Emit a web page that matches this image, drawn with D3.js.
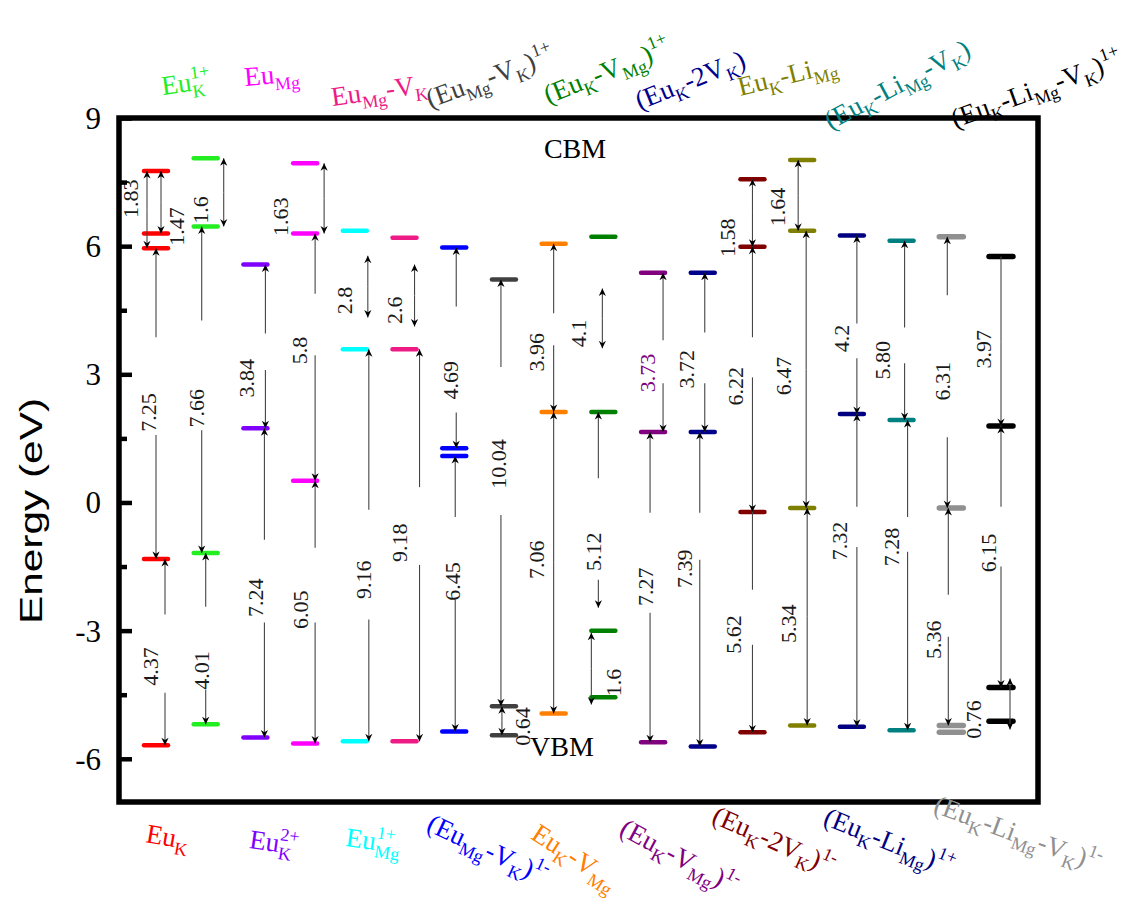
<!DOCTYPE html>
<html>
<head>
<meta charset="utf-8">
<script src="https://cdn.jsdelivr.net/npm/d3@7"></script>
<style>
  body { margin: 0; background: #fff; }
  svg { display: block; }
</style>
</head>
<body>
<div id="chart"></div>
<script>
// defect configurations, left to right
const defects = [
  "Eu_{K}", "Eu_{K}^{1+}", "Eu_{K}^{2+}", "Eu_{Mg}", "Eu_{Mg}^{1+}", "Eu_{Mg}-V_{K}",
  "(Eu_{Mg}-V_{K})^{1-}", "(Eu_{Mg}-V_{K})^{1+}", "Eu_{K}-V_{Mg}", "(Eu_{K}-V_{Mg})^{1+}",
  "(Eu_{K}-V_{Mg})^{1-}", "(Eu_{K}-2V_{K})", "(Eu_{K}-2V_{K})^{1-}", "Eu_{K}-Li_{Mg}",
  "(Eu_{K}-Li_{Mg})^{1+}", "(Eu_{K}-Li_{Mg}-V_{K})", "(Eu_{K}-Li_{Mg}-V_{K})^{1-}",
  "(Eu_{K}-Li_{Mg}-V_{K})^{1+}"
];
const defectColors = [
  "#ff0000", "#22ee22", "#8000ff", "#ff00ff", "#00ffff", "#ee1a86",
  "#0000ff", "#404040", "#ff8000", "#008000", "#800080", "#00008b",
  "#800000", "#808000", "#000080", "#008080", "#909090", "#000000"
];

// energy levels (eV) of each defect
const levels = [
  [7.77, 6.31, 5.96, -1.31, -5.67],
  [8.07, 6.47, -1.17, -5.18],
  [5.58, 1.75, -5.49],
  [7.95, 6.31, 0.52, -5.63],
  [6.37, 3.60, -5.58],
  [6.21, 3.60, -5.58],
  [5.98, 1.28, 1.10, -5.35],
  [5.23, -4.76, -5.44],
  [6.07, 2.13, -4.93],
  [6.23, 2.13, -2.99, -4.55],
  [5.39, 1.66, -5.60],
  [5.39, 1.66, -5.70],
  [7.58, 6.00, -0.21, -5.37],
  [8.03, 6.37, -0.12, -5.21],
  [6.26, 2.08, -5.24],
  [6.14, 1.94, -5.32],
  [6.23, -0.12, -5.21, -5.37],
  [5.77, 1.80, -4.32, -5.11]
];

// transitions: [defect, upper end (eV), lower end (eV), label, gap top, gap bottom, label at (eV), heads]
const transitions = [
  [0, 7.77, 5.96, "1.83", null, null, 7.12, "both"],
  [0, 7.77, 6.31, "1.47", null, null, 6.47, "both"],
  [0, 5.96, -1.31, "7.25", 3.88, 1.59, 2.12, "both"],
  [0, -1.31, -5.67, "4.37", -2.61, -4.44, -3.83, "both"],
  [1, 8.07, 6.47, "1.6", null, null, 6.86, "both"],
  [1, 6.47, -1.17, "7.66", 4.27, 1.70, 2.22, "both"],
  [1, -1.17, -5.18, "4.01", -2.43, -4.37, -3.92, "both"],
  [2, 5.58, 1.75, "3.84", 3.97, 3.11, 2.92, "both"],
  [2, 1.75, -5.49, "7.24", -0.86, -2.80, -2.22, "both"],
  [3, 7.95, 6.31, "1.63", null, null, 6.70, "both"],
  [3, 6.31, 0.52, "5.8", 4.90, 3.46, 3.57, "both"],
  [3, 0.52, -5.63, "6.05", -1.05, -2.80, -2.50, "both"],
  [4, 5.79, 4.34, "2.8", null, null, 4.74, "both"],
  [4, 3.60, -5.58, "9.16", -0.16, -2.73, -1.80, "both"],
  [5, 5.58, 4.13, "2.6", null, null, 4.51, "both"],
  [5, 3.60, -5.58, "9.18", 0.37, -1.45, -0.93, "both"],
  [6, 5.98, 1.28, "4.69", 4.60, 2.12, 2.87, "both"],
  [6, 1.10, -5.35, "6.45", -0.33, -2.26, -1.84, "both"],
  [7, 5.23, -4.76, "10.04", 3.18, -0.28, 0.91, "both"],
  [7, -4.76, -5.44, "0.64", null, null, -5.23, "both"],
  [8, 6.07, 2.13, "3.96", 4.44, 3.69, 3.53, "both"],
  [8, 2.13, -4.93, "7.06", null, null, -1.33, "both"],
  [9, 5.02, 3.62, "4.1", null, null, 3.97, "both"],
  [9, 2.13, -2.45, "5.12", 0.58, -1.80, -1.14, "both"],
  [9, -3.04, -4.72, "1.6", null, null, -4.20, "both"],
  [10, 5.39, 1.66, "3.73", 3.81, 2.80, 3.04, "both"],
  [10, 1.66, -5.60, "7.27", -0.23, -2.57, -1.96, "both"],
  [11, 5.39, 1.66, "3.72", 3.99, 2.80, 3.13, "both"],
  [11, 1.66, -5.70, "7.39", -0.23, -1.33, -1.54, "both"],
  [12, 7.58, 6.00, "1.58", null, null, 6.21, "both"],
  [12, 6.00, -0.21, "6.22", 3.88, 2.94, 2.73, "both"],
  [12, -0.21, -5.37, "5.62", -2.03, -3.32, -3.08, "down"],
  [13, 8.03, 6.37, "1.64", null, null, 6.93, "both"],
  [13, 6.37, -0.12, "6.47", null, null, 2.97, "both"],
  [13, -0.12, -5.21, "5.34", null, null, -2.83, "both"],
  [14, 6.26, 2.08, "4.2", 4.20, 3.39, 3.85, "both"],
  [14, 2.08, -5.24, "7.32", -0.09, -1.03, -0.89, "both"],
  [15, 6.14, 1.94, "5.80", 4.11, 3.27, 3.34, "both"],
  [15, 1.94, -5.32, "7.28", -0.33, -1.14, -1.03, "both"],
  [16, 6.23, -0.12, "6.31", 4.86, 1.54, 2.85, "both"],
  [16, -0.12, -5.21, "5.36", -2.15, -3.13, -3.20, "both"],
  [17, 5.77, 1.80, "3.97", null, null, 3.60, "down"],
  [17, 1.80, -4.32, "6.15", -0.09, -1.49, -1.17, "both"],
  [17, -4.11, -5.30, "0.76", null, null, -5.07, "both"]
];

const yTicks = [-6, -3, 0, 3, 6, 9];
const yMinorTicks = [-4.5, -1.5, 1.5, 4.5, 7.5];

// layout nudges (px): arrow x and label x relative to the defect column
const arrowNudge = [
  [-9, -26], [5, 20], [0, -8], [9, -6], [18, -5], [-4, -9], [0, -4], [10, -9], [9, 0],
  [19, -25], [10, -6], [10, -5], [13, -10], [14, 9], [10, -10], [15, -5], [2, -4], [1, -2],
  [-3, -5], [-2, 19], [0, -17], [0, -17], [-1, -25], [-5, -10], [-12, 10], [10, -6], [-3, -8],
  [2, -16], [-3, -18], [0, -25], [0, -17], [0, -19], [-4, -25], [4, -19], [5, -14], [5, -10],
  [5, -12], [3, -19], [6, -10], [-4, -9], [-3, -18], [0, -18], [0, -13], [9, -28]
];
// name labels: [start x offset from column, baseline y, angle]
const nameSpots = [
  [-11, 842, 10], [-43, 95, -8], [-7, 848, 8], [-60, 86, -5], [-10, 846, 8], [-72, 106, -8],
  [-29, 830, 25], [-74, 108, -20], [-24, 838, 33], [-55, 104, -22],
  [-35, 834, 28], [-63, 110, -22], [-42, 822, 24], [-62, 96, -14],
  [-30, 824, 22], [-71, 130, -28], [-19, 812, 20], [-46, 128, -20]
];

const W = 1121, H = 901;
const frame = { left: 119, right: 1038, top: 118, bottom: 802 };
const serif = "'Liberation Serif', 'Times New Roman', serif";

const svg = d3.select("#chart").append("svg")
  .attr("width", W).attr("height", H)
  .attr("font-family", serif);

const y = d3.scaleLinear().domain([-7, 9]).range([frame.bottom, frame.top + 0.5]);
const x = d3.scalePoint().domain(d3.range(defects.length)).range([156, 1001]);

svg.append("defs").append("marker")
  .attr("id", "head")
  .attr("viewBox", "-8 -4 9 8")
  .attr("refX", 0).attr("refY", 0)
  .attr("markerWidth", 9).attr("markerHeight", 8)
  .attr("markerUnits", "userSpaceOnUse")
  .attr("orient", "auto")
  .append("path")
  .attr("d", "M0,0 L-7.5,-3.6 L-5.2,0 L-7.5,3.6 Z")
  .attr("fill", "#000");

// levels
const bars = svg.append("g");
levels.forEach((lv, i) => {
  bars.selectAll(null)
    .data(lv)
    .join("line")
    .attr("x1", x(i) - 12).attr("x2", x(i) + 12)
    .attr("y1", d => y(d)).attr("y2", d => y(d))
    .attr("stroke", defectColors[i])
    .attr("stroke-width", i >= 16 ? 5.5 : 4.5)
    .attr("stroke-linecap", "round");
});

// transitions
const arrows = svg.append("g").attr("stroke", "#444").attr("stroke-width", 1.1);
transitions.forEach((t, k) => {
  const [d, hi, lo, text, gHi, gLo, at, heads] = t;
  const ax = x(d) + arrowNudge[k][0];
  const lx = x(d) + arrowNudge[k][1];
  const innerHi = gHi === null ? (hi + lo) / 2 : gHi;
  const innerLo = gLo === null ? (hi + lo) / 2 : gLo;
  arrows.append("line")
    .attr("x1", ax).attr("y1", y(innerHi))
    .attr("x2", ax).attr("y2", y(hi))
    .attr("marker-end", heads === "down" ? null : "url(#head)");
  arrows.append("line")
    .attr("x1", ax).attr("y1", y(innerLo))
    .attr("x2", ax).attr("y2", y(lo))
    .attr("marker-end", "url(#head)");
  svg.append("text")
    .attr("transform", `translate(${lx},${y(at)}) rotate(-90)`)
    .attr("text-anchor", "middle")
    .attr("dominant-baseline", "central")
    .attr("font-size", 22)
    .attr("fill", text === "3.73" ? "#800080" : "#1a1a1a")
    .text(text);
});

// frame and left axis
svg.append("rect")
  .attr("x", frame.left).attr("y", frame.top)
  .attr("width", frame.right - frame.left).attr("height", frame.bottom - frame.top)
  .attr("fill", "none").attr("stroke", "#000").attr("stroke-width", 5.5);

const axis = svg.append("g");
axis.selectAll(".major").data(yTicks).join("line")
  .attr("x1", frame.left).attr("x2", frame.left + 13)
  .attr("y1", d => y(d)).attr("y2", d => y(d))
  .attr("stroke", "#000").attr("stroke-width", 4.5);
axis.selectAll(".minor").data(yMinorTicks).join("line")
  .attr("x1", frame.left).attr("x2", frame.left + 8)
  .attr("y1", d => y(d)).attr("y2", d => y(d))
  .attr("stroke", "#000").attr("stroke-width", 4.5);
axis.selectAll("text").data(yTicks).join("text")
  .attr("x", 101).attr("y", d => y(d))
  .attr("text-anchor", "end")
  .attr("dominant-baseline", "central")
  .attr("font-family", serif)
  .attr("font-size", 31)
  .text(d => d);

svg.append("text")
  .attr("transform", "translate(42,511) rotate(-90)")
  .attr("text-anchor", "middle")
  .attr("font-family", "'Liberation Sans', Arial, sans-serif")
  .attr("font-size", 31)
  .attr("textLength", 226)
  .attr("lengthAdjust", "spacingAndGlyphs")
  .text("Energy (eV)");

svg.append("text").attr("x", 575).attr("y", 158).attr("text-anchor", "middle")
  .attr("font-size", 28).text("CBM");
svg.append("text").attr("x", 562).attr("y", 756).attr("text-anchor", "middle")
  .attr("font-size", 28).text("VBM");

// defect names with sub/superscripts
const ctx = document.createElement("canvas").getContext("2d");
function parseName(s) {
  const out = [];
  const re = /([_^])\{([^}]*)\}|([^_^]+)/g;
  let m;
  while ((m = re.exec(s))) {
    if (m[3]) out.push({ kind: "n", text: m[3] });
    else out.push({ kind: m[1] === "_" ? "sub" : "sup", text: m[2] });
  }
  return out;
}
const big = 27, small = 18;
defects.forEach((name, i) => {
  const [dx, by, ang] = nameSpots[i];
  const parts = parseName(name);
  const t = svg.append("text")
    .attr("transform", `translate(${x(i) + dx},${by}) rotate(${ang})`)
    .attr("text-anchor", "start")
    .attr("fill", defectColors[i])
    .attr("font-size", big);
  let shift = 0;
  parts.forEach((p, j) => {
    const target = p.kind === "sub" ? 7 : p.kind === "sup" ? -12 : 0;
    const ts = t.append("tspan").attr("dy", target - shift).text(p.text);
    shift = target;
    if (p.kind !== "n") ts.attr("font-size", small);
    if (p.kind === "sup" && j > 0 && parts[j - 1].kind === "sub") {
      ctx.font = `${small}px 'Liberation Serif'`;
      ts.attr("dx", -ctx.measureText(parts[j - 1].text).width);
    }
  });
});
</script>
</body>
</html>
